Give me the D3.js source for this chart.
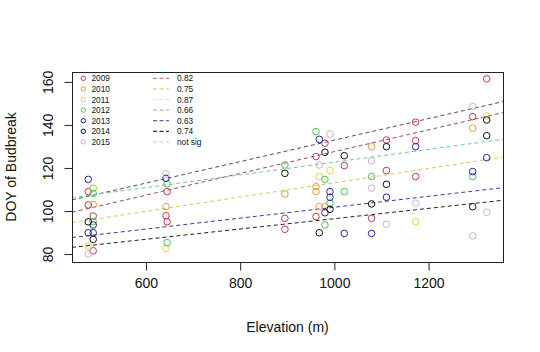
<!DOCTYPE html>
<html><head><meta charset="utf-8">
<script src="https://cdn.jsdelivr.net/npm/d3@7"></script>
<style>body{margin:0;background:#fff}svg{display:block}text{font-family:"Liberation Sans",Arial,sans-serif}</style>
</head><body><svg id="c" width="540" height="352"></svg>
<script>
// ---- data ----
const years = ["2009","2010","2011","2012","2013","2014","2015"];
const yearColors = ["#c8374e","#e0a030","#e2da3a","#44c454","#22229a","#111111","#c9b6cc"];
const pts2009 = [[477.5,109],[477.5,102.8],[488,97.7],[488,81.5],[645,109],[642.5,97.8],[645,95],[895,96.6],[895,91.5],[961,125.3],[961,97.4],[980,131.5],[1021,121.1],[1079,96.6],[1110.6,133],[1110.6,118.8],[1172.6,141.3],[1172.6,132.7],[1172.6,116],[1293.6,143.9],[1323.4,161.4]];
const pts2010 = [[488,110.6],[488,103],[642.5,102],[895,107.9],[961,111.3],[961,109],[968,102],[980,102],[1079,129.9],[1293.6,138.5]];
const pts2011 = [[477.5,83.7],[642.5,82.6],[968,116],[990.7,118.8],[1172.6,95],[1323.4,144.2]];
const pts2012 = [[488,108.2],[488,95],[645,112.6],[645,85.3],[895,121.4],[961,136.9],[980,114.7],[990.7,103.6],[980,93.5],[1021,109],[1079,116],[1293.6,116]];
const pts2013 = [[477.5,114.7],[488,93.5],[477.5,89.9],[488,89.9],[642.5,115.2],[968,133.3],[990.7,109],[990.7,106.4],[980,99.2],[1021,89.6],[1079,89.6],[1110.6,106.4],[1172.6,129.9],[1293.6,118.3],[1323.4,124.8]];
const pts2014 = [[477.5,95],[488,86.8],[895,117.5],[980,127.3],[990.7,100.8],[968,89.9],[1021,125.7],[1079,103.3],[1110.6,129.9],[1110.6,112.4],[1293.6,102],[1323.4,135],[1323.4,142.3]];
const pts2015 = [[477.5,80],[642.5,117.2],[968,121.4],[990.7,135.8],[1079,123.3],[1079,110.6],[1110.6,93.8],[1172.6,103.6],[1293.6,148.5],[1293.6,88.5],[1323.4,99.4]];
const allPts = [pts2009,pts2010,pts2011,pts2012,pts2013,pts2014,pts2015];

// regression lines (intercept, slope) as drawn
const lineIntercepts = [83.0, 77.0, 93.1, 79.9, 76.4, 72.5];
const lineSlopes = [0.04995, 0.0506, 0.02962, 0.03322, 0.02536, 0.02393];
const lineColors = ["#5c4a5c","#a0485a","#6ccc8c","#d6c85e","#3a3a9c","#222222"];

// legend
const fitLabels = ["0.82","0.75","0.87","0.66","0.63","0.74","not sig"];
const fitColors = ["#c06080","#c8c860","#f2f07a","#90b090","#4040a0","#000000","#c8c0d8"];

const xTicks = [600,800,1000,1200];
const yTicks = [80,100,120,140,160];

// ---- drawing ----
const svg = d3.select("#c");
const L=72,R=503,T=72,B=262;
const x = d3.scaleLinear().domain([443,1358]).range([L,R]);
const y = d3.scaleLinear().domain([76.3,164.6]).range([B,T]);

const defs = svg.append("defs");
defs.append("clipPath").attr("id","clip").append("rect").attr("x",L).attr("y",T).attr("width",R-L).attr("height",B-T);

// regression lines
const gl = svg.append("g").attr("clip-path","url(#clip)");
lineIntercepts.forEach((a,i)=>{
  const d0 = x.domain();
  gl.append("line")
    .attr("x1",x(d0[0])).attr("y1",y(a+lineSlopes[i]*d0[0]))
    .attr("x2",x(d0[1])).attr("y2",y(a+lineSlopes[i]*d0[1]))
    .attr("stroke",lineColors[i]).attr("stroke-width",1).attr("stroke-dasharray","4,3");
});

// points
allPts.forEach((pts,i)=>{
  svg.append("g").selectAll("circle").data(pts).join("circle")
    .attr("cx",d=>x(d[0])).attr("cy",d=>y(d[1])).attr("r",3.3)
    .attr("fill","none").attr("stroke",yearColors[i]).attr("stroke-width",1);
});

// box
svg.append("rect").attr("x",L+0.5).attr("y",T+0.5).attr("width",R-L).attr("height",B-T)
  .attr("fill","none").attr("stroke","#222").attr("stroke-width",1);

// axes
const xa = svg.append("g").attr("transform",`translate(0,${B+0.5})`)
  .call(d3.axisBottom(x).tickValues(xTicks).tickSize(8).tickPadding(8).tickFormat(d3.format("d")));
xa.select(".domain").attr("d",`M${x(600)},0H${x(1200)}`);
xa.selectAll("text").attr("font-size",14).attr("fill","#111").attr("font-family","Liberation Sans, Arial, sans-serif");
xa.selectAll("line,path").attr("stroke","#222");

const ya = svg.append("g").attr("transform",`translate(${L+0.5},0)`)
  .call(d3.axisLeft(y).tickValues(yTicks).tickSize(8).tickPadding(0).tickFormat(d3.format("d")));
ya.select(".domain").attr("d",`M0,${y(80)}V${y(160)}`);
ya.selectAll("line,path").attr("stroke","#222");
ya.selectAll("text").attr("font-size",14).attr("fill","#111").attr("font-family","Liberation Sans, Arial, sans-serif")
  .attr("text-anchor","middle").attr("dy",null).attr("x",null)
  .attr("transform",function(){return "translate(-25,0) rotate(-90)";})
  .attr("dominant-baseline","central");

svg.append("text").attr("x",(L+R)/2).attr("y",332).attr("text-anchor","middle")
  .attr("font-size",14).attr("fill","#111").text("Elevation (m)");
svg.append("text").attr("transform",`translate(16,${(T+B)/2}) rotate(-90)`).attr("text-anchor","middle")
  .attr("font-size",14).attr("fill","#111").text("DOY of Budbreak");

// legend
const lg = svg.append("g");
years.forEach((yr,i)=>{
  const yy = 78.3 + i*10.6;
  lg.append("circle").attr("cx",83.3).attr("cy",yy).attr("r",2.2).attr("fill","none").attr("stroke",yearColors[i]).attr("stroke-width",1);
  lg.append("text").attr("x",91.5).attr("y",yy).attr("dominant-baseline","central").attr("font-size",8.3).attr("fill","#111").text(yr);
  lg.append("line").attr("x1",153).attr("x2",169).attr("y1",yy).attr("y2",yy).attr("stroke",fitColors[i]).attr("stroke-dasharray","4,2.5");
  lg.append("text").attr("x",177).attr("y",yy).attr("dominant-baseline","central").attr("font-size",8.3).attr("fill","#111").text(fitLabels[i]);
});
</script></body></html>
